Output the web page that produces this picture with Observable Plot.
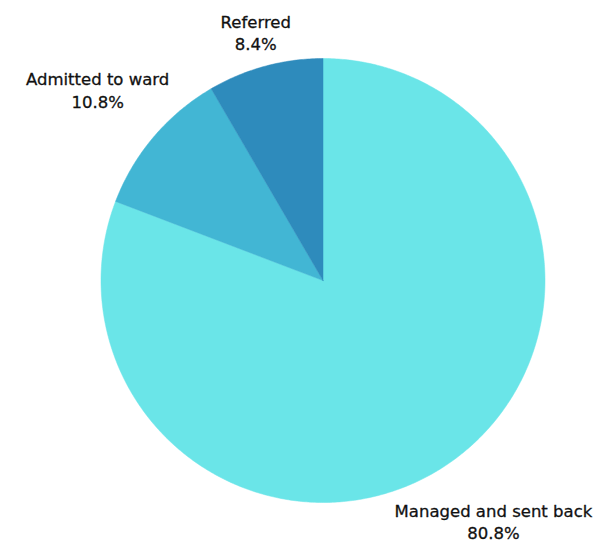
<!DOCTYPE html>
<html>
<head>
<meta charset="utf-8">
<script src="https://cdn.jsdelivr.net/npm/d3@7"></script>
<script src="https://cdn.jsdelivr.net/npm/@observablehq/plot@0.6"></script>
<style>
  html, body { margin: 0; padding: 0; background: #fff; }
  #chart { width: 610px; height: 545px; }
</style>
</head>
<body>
<div id="chart"></div>
<script>
// ---- data ----
const categories = ["Managed and sent back", "Admitted to ward", "Referred"];
const shares = [80.8, 10.8, 8.4];
const colors = ["#6ae5e8", "#42b6d4", "#2e8bbc"];

// ---- layout ----
const W = 610, H = 545;
const cx = 322.5, cy = 280, R = 222;
const fontSize = 16.5, lineH = 22.5, gap = 8;
const fontFamily = "DejaVu Sans, sans-serif";

const data = categories.map((c, i) => ({label: c, value: shares[i], color: colors[i]}));
const arcs = d3.pie().sort(null).value(d => d.value)(data);

// polygon outline of each slice in unit coords (y up, angle clockwise from top)
const slicePts = [];
for (const a of arcs) {
  slicePts.push({label: a.data.label, x: 0, y: 0});
  const n = Math.max(2, Math.ceil((a.endAngle - a.startAngle) / 0.01));
  for (let k = 0; k <= n; k++) {
    const t = a.startAngle + (a.endAngle - a.startAngle) * k / n;
    slicePts.push({label: a.data.label, x: Math.sin(t), y: Math.cos(t)});
  }
  slicePts.push({label: a.data.label, x: 0, y: 0});
}

// label positions: box just outside circle along mid-angle, kept inside the frame
const ctx = document.createElement("canvas").getContext("2d");
ctx.font = `${fontSize}px ${fontFamily}`;
const labels = arcs.map(a => {
  const mid = (a.startAngle + a.endAngle) / 2;
  const ux = Math.sin(mid), uy = Math.cos(mid);
  const txt1 = a.data.label, txt2 = `${a.data.value}%`;
  const w = Math.max(ctx.measureText(txt1).width, ctx.measureText(txt2).width);
  const h = lineH * 2 - 6;
  const d = (R + gap + Math.abs(ux) * w / 2 * 0.97 + Math.abs(uy) * h / 2) / R;
  let x = ux * d, y = uy * d;
  const minY = -(H - cy - h / 2 - 5) / R; // keep bottom of text inside the SVG
  if (y < minY) y = minY;
  return {text: `${txt1}\n${txt2}`, x, y};
});

const chart = Plot.plot({
  width: W,
  height: H,
  margin: 0,
  x: {domain: [-cx / R, (W - cx) / R], axis: null},
  y: {domain: [-(H - cy) / R, cy / R], axis: null},
  color: {domain: categories, range: colors},
  style: {fontFamily, fontSize: fontSize + "px", background: "#fff"},
  marks: [
    Plot.line(slicePts, {x: "x", y: "y", z: "label", fill: "label", stroke: "label", strokeWidth: 0.5}),
    Plot.text(labels, {x: "x", y: "y", text: "text", fill: "#111", stroke: "#111", strokeWidth: 0.3, lineHeight: lineH / fontSize, lineAnchor: "middle", textAnchor: "middle", fontSize: fontSize})
  ]
});
document.getElementById("chart").appendChild(chart);
</script>
</body>
</html>
